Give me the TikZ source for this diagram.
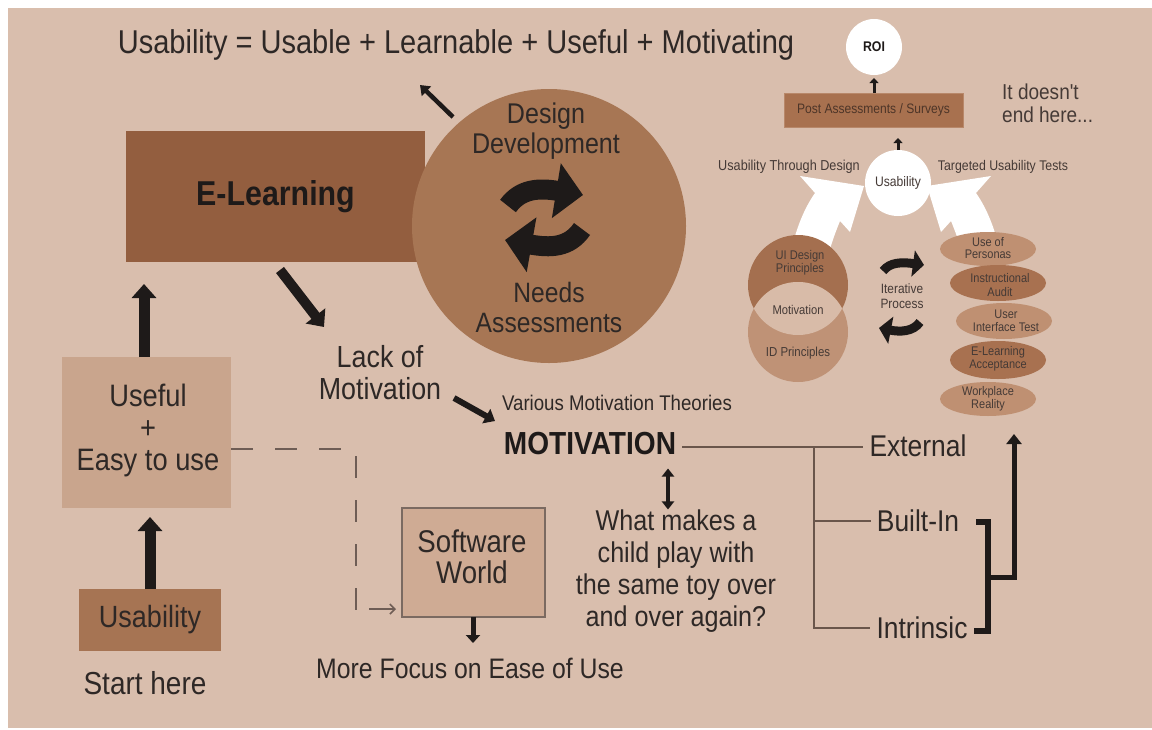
\documentclass[tikz,border=0pt]{standalone}
\usepackage{fontspec}
\usetikzlibrary{arrows.meta,calc}
\newfontfamily\cf[FakeStretch=0.88]{Liberation Sans}
\newcommand\fsz[2]{\fontsize{#1pt}{#2pt}\selectfont}

\definecolor{paper}{HTML}{D9BEAD}
\definecolor{elbox}{HTML}{935E3F}
\definecolor{cycfill}{HTML}{A77654}
\definecolor{usefill}{HTML}{C9A58D}
\definecolor{usbox}{HTML}{A67453}
\definecolor{swfill}{HTML}{CFAB94}
\definecolor{swline}{HTML}{7B6A61}
\definecolor{postfill}{HTML}{A8714F}
\definecolor{postline}{HTML}{B8886A}
\definecolor{posttext}{HTML}{4D3528}
\definecolor{venntop}{HTML}{A46F4F}
\definecolor{vennbot}{HTML}{BF9276}
\definecolor{vennlens}{HTML}{D8BBA8}
\definecolor{ovlight}{HTML}{BF9072}
\definecolor{ovdark}{HTML}{A87150}
\definecolor{ink}{HTML}{2E2826}
\definecolor{arrowk}{HTML}{1E1A19}
\definecolor{treeline}{HTML}{6A564B}
\definecolor{dashline}{HTML}{6E5D55}
\definecolor{smallink}{HTML}{453A36}

\begin{document}
\begin{tikzpicture}[x=1pt,y=-1pt,
  f/.style 2 args={font=\cf\fsz{#1}{#2}},
  txt/.style={inner sep=0pt, align=center, text=ink},
  small/.style={inner sep=0pt, align=center, text=smallink},
  panel/.style={inner sep=0pt, outer sep=0pt, draw=none},
  bigarr/.style={draw=arrowk, line width=11pt, -{Triangle[length=14pt,width=24pt]}},
  midarr/.style={draw=arrowk, line width=6pt, -{Triangle[length=10pt,width=16pt]}},
  thinarr/.style={draw=arrowk, line width=4.5pt, -{Triangle[length=9pt,width=13pt]}},
  tinyarr/.style={draw=arrowk, line width=3pt, -{Triangle[length=5pt,width=9pt]}},
  curvarr/.style={draw=arrowk, line width=#1},
  tree/.style={draw=treeline, line width=2pt},
  bracket/.style={draw=arrowk, line width=6.5pt},
  dashlink/.style={draw=dashline, line width=2pt, dash pattern=on 22pt off 22pt}
]
\useasboundingbox (0,0) rectangle (1152,729);
\fill[white] (0,0) rectangle (1152,729);
\fill[paper] (8,8) rectangle (1152,728);

% ---------- headline ----------
\node[txt, f={33}{33}] (title) at (456,45) {Usability = Usable + Learnable + Useful + Motivating};

% ---------- e-learning and the design cycle ----------
\node[panel, fill=elbox, minimum width=299pt, minimum height=131pt,
      text=arrowk, font=\cf\bfseries\fsz{34.5}{34.5}] (el) at (275.5,196.5) {E-Learning};
\node[circle, panel, fill=cycfill, minimum size=274pt] (cyc) at (549,226) {};
\node[txt, f={28.5}{30}] (dd) at (546,131) {Design\\Development};
\node[txt, f={28}{30}] (na) at (549,307) {Needs\\Assessments};
\draw[curvarr=20pt, -{Triangle[length=27pt,width=54pt]}]
  (508,206) .. controls (521,188) and (540,188) .. (583,195);
\draw[curvarr=20pt, -{Triangle[length=27pt,width=54pt]}]
  (582,229) .. controls (569,248) and (550,248) .. (505,240);

\coordinate (c1) at (453,117);
\coordinate (c2) at (420,85);
\draw[thinarr] (c1) -- (c2);

% ---------- lack of motivation ----------
\node[txt, f={30.5}{32}] (lack) at (380,373) {Lack of\\Motivation};
\coordinate (e1) at (280,270);
\coordinate (e2) at (324,327);
\draw[bigarr, line width=10pt] (e1) -- (e2);
\coordinate (l1) at (454,398);
\coordinate (l2) at (495,421);
\draw[midarr] (l1) -- (l2);
\node[txt, f={21.2}{22}] (theo) at (617,403) {Various Motivation Theories};

% ---------- motivation tree ----------
\node[txt, font=\cf\bfseries\fsz{31.9}{32}, text=arrowk, inner sep=6pt] (mot) at (590,444) {MOTIVATION};
\node[txt, f={30}{30}, inner sep=6pt] (ext) at (918,446) {External};
\node[txt, f={30}{30}, inner sep=6pt] (bui) at (918,521) {Built-In};
\node[txt, f={30}{30}, inner sep=6pt] (intr) at (922,628) {Intrinsic};
\coordinate (jn) at (814,447);
\draw[tree] (mot.east |- jn) -- (ext.west |- jn);
\draw[tree] (jn) |- (bui.west);
\draw[tree] (jn) |- (intr.west);

\coordinate (bk1) at (976,522);
\coordinate (bk2) at (988,522);
\coordinate (bk3) at (988,631);
\coordinate (bk4) at (974,631);
\draw[bracket] (bk1) -- (bk2) -- (bk3) -- (bk4);
\coordinate (bm) at (988,577);
\coordinate (up) at (1014,434);
\draw[draw=arrowk, line width=5pt, -{Triangle[length=10pt,width=15pt]}] (bm) -| (up);

\node[txt, f={28.6}{32}] (quest) at (676,571) {What makes a\\child play with\\the same toy over\\and over again?};
\draw[draw=arrowk, line width=4pt, {Triangle[length=8pt,width=12pt]}-{Triangle[length=8pt,width=12pt]}]
  (mot.south -| 668,0) ++(0,7) coordinate (q1) -- (quest.north -| q1);

% ---------- left column ----------
\node[panel, fill=usefill, minimum width=169pt, minimum height=151pt] (useful) at (146.5,432.5) {};
\node[txt, f={31}{32}] (usetxt) at (148,430) {Useful\\+\\Easy to use};
\node[panel, fill=usbox, minimum width=142pt, minimum height=62pt,
      text=ink, font=\cf\fsz{30.7}{31}] (usb) at (150,620) {Usability};
\node[txt, f={31.8}{32}] (start) at (145,683) {Start here};
\draw[bigarr] (usb.north -| 150,0) -- (150,517) coordinate (ua);
\draw[bigarr] (useful.north -| 144,0) -- (144,284) coordinate (ub);

% ---------- software world ----------
\node[panel, fill=swfill, draw=swline, line width=2pt, minimum width=143pt, minimum height=109pt] (sw) at (473.5,562.5) {};
\node[txt, f={31.4}{31}] (swtxt) at (472,557) {Software\\World};
\node[txt, f={28.2}{28}] (focus) at (470,668) {More Focus on Ease of Use};
\draw[draw=arrowk, line width=5pt, -{Triangle[length=8pt,width=14pt]}] (sw.south -| 473,0) -- (473,643) coordinate (sa);

\coordinate (d0) at ($(useful.east)+(0,16.5)$);
\coordinate (d1) at (356,449);
\coordinate (d2) at (356,610);
\draw[dashlink] (d0) -- (d1) -- (d2);
\coordinate (s1) at (369,609);
\draw[draw=dashline, line width=1.6pt, -{Straight Barb[length=5pt,width=10pt]}, shorten >=6pt] (s1) -- (sw.west |- s1);

% ---------- usability cycle (right) ----------
% two broad white arrows rising from behind the Venn and the test ovals
\fill[white] (790,256) .. controls (795,232) and (803,210) .. (815,193)
  -- (800,176) -- (864,186) -- (850,232) -- (840,221)
  .. controls (836,231) and (832,241) .. (828,256) -- cycle;
\fill[white] (1001,256) .. controls (996,232) and (988,210) .. (976,193)
  -- (991,176) -- (927,186) -- (941,232) -- (951,221)
  .. controls (955,231) and (959,241) .. (963,256) -- cycle;

\node[circle, panel, fill=white, minimum size=66pt, small, f={13.8}{14}] (usab) at (898,183) {Usability};
\node[circle, panel, fill=white, minimum size=56pt, text=arrowk, font=\cf\bfseries\fsz{14}{14}] (roi) at (874,47) {ROI};
\node[panel, fill=postfill, draw=postline, line width=1pt, minimum width=179pt, minimum height=34pt,
      text=posttext, font=\cf\fsz{13.7}{14}] (post) at (873.5,110) {Post Assessments / Surveys};
\draw[tinyarr, shorten >=3pt] (post.north -| roi.south) -- (roi.south);
\draw[tinyarr, shorten >=11pt] (usab.north) -- (usab.north |- post.south);

\node[small, f={14.4}{15}] (utd) at (789,167) {Usability Through Design};
\node[small, f={14}{15}] (tut) at (1003,167) {Targeted Usability Tests};
\node[small, f={21.6}{23}, align=left, anchor=west] (endtxt) at (1002,103) {It doesn't\\end here...};

% Venn of principles
\node[circle, panel, fill=venntop, minimum size=100pt] (vtop) at (798,285) {};
\node[circle, panel, fill=vennbot, minimum size=100pt] (vbot) at (798,332) {};
\begin{scope}
  \clip (798,285) circle[radius=50pt];
  \fill[vennlens] (798,332) circle[radius=50pt];
\end{scope}
\node[small, f={12.6}{13}] (uid) at (800,263) {UI Design\\Principles};
\node[small, f={12.7}{13}] (vmot) at (798,310) {Motivation};
\node[small, f={13}{13}] (idp) at (798,353) {ID Principles};

% iterative process
\node[small, f={13.5}{15}] (iter) at (902,296) {Iterative\\Process};
\draw[curvarr=9pt, -{Triangle[length=11pt,width=26pt]}]
  (883,271) .. controls (890,262) and (902,262) .. (924,265);
\draw[curvarr=9pt, -{Triangle[length=12pt,width=27pt]}]
  (920,322) .. controls (913,332) and (900,332) .. (879,328);

% test methods
\fill[ovlight] (988,249) ellipse[x radius=48pt, y radius=17pt];
\fill[ovdark] (998,283) ellipse[x radius=48pt, y radius=18pt];
\fill[ovlight] (1004,321) ellipse[x radius=48pt, y radius=18pt];
\fill[ovdark] (998,360) ellipse[x radius=48pt, y radius=19pt];
\fill[ovlight] (988,399) ellipse[x radius=48pt, y radius=17pt];
\node[small, f={12.5}{12.5}] (o1) at (988,248) {Use of\\Personas};
\node[small, f={12.5}{13.5}] (o2) at (1000,285) {Instructional\\Audit};
\node[small, f={12.5}{12.5}] (o3) at (1006,321) {User\\Interface Test};
\node[small, f={12.5}{13}] (o4) at (998,359) {E-Learning\\Acceptance};
\node[small, f={12.5}{12.5}] (o5) at (988,399) {Workplace\\Reality};

\end{tikzpicture}
\end{document}
